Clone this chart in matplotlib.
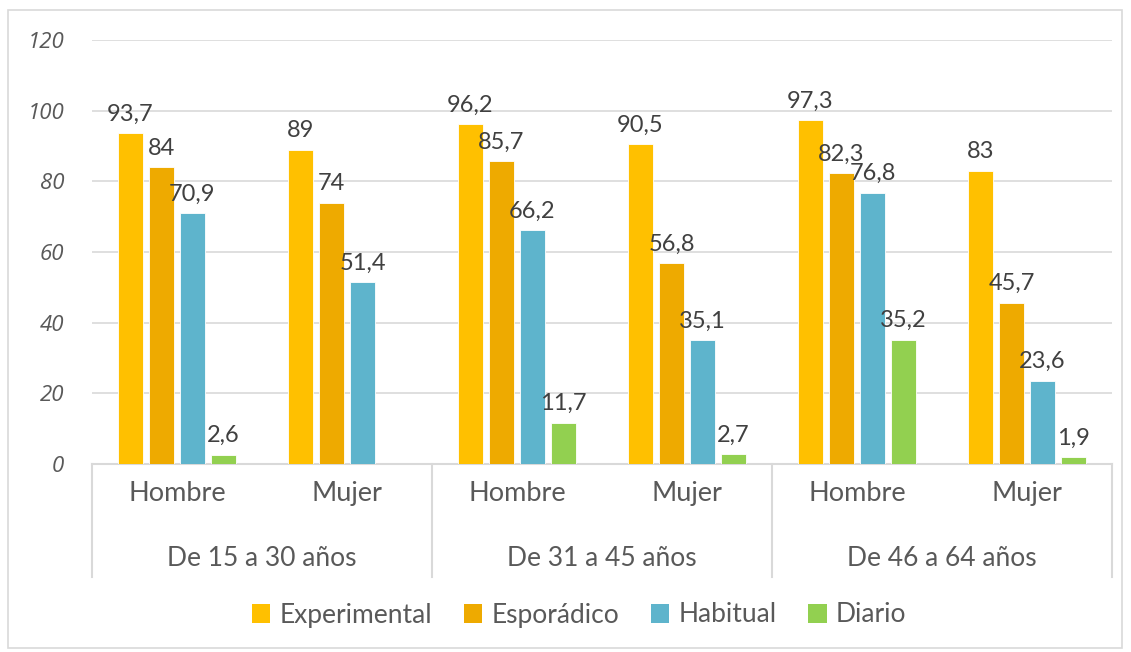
import numpy as np
import matplotlib
matplotlib.use("Agg")
import matplotlib.pyplot as plt
from matplotlib.patches import Rectangle

plt.rcParams['font.family'] = ['Lato', 'DejaVu Sans']

# Datos
grupos = ["De 15 a 30 años", "De 31 a 45 años", "De 46 a 64 años"]
sexos = ["Hombre", "Mujer", "Hombre", "Mujer", "Hombre", "Mujer"]
series = ["Experimental", "Esporádico", "Habitual", "Diario"]
experimental = [93.7, 89, 96.2, 90.5, 97.3, 83]
esporadico = [84, 74, 85.7, 56.8, 82.3, 45.7]
habitual = [70.9, 51.4, 66.2, 35.1, 76.8, 23.6]
diario = [2.6, None, 11.7, 2.7, 35.2, 1.9]
colores = ["#FFC000", "#EEAA00", "#5EB4CC", "#92D050"]
y_ticks = [0, 20, 40, 60, 80, 100, 120]

texto = "#595959"
gris = "#D9D9D9"

fig = plt.figure(figsize=(11.31, 6.52), dpi=100)
ax = fig.add_axes([92 / 1131, (652 - 464) / 652, 1020 / 1131, 424 / 652])

# borde exterior del grafico
fig.patches.append(Rectangle((8 / 1131, 4 / 652), 1114 / 1131, 638 / 652,
                             transform=fig.transFigure, fill=False,
                             edgecolor=gris, linewidth=1.2))

x = np.arange(len(sexos))
paso = 31 / 170
ancho = 25 / 170
valores = [experimental, esporadico, habitual, diario]

for i, (vals, col, nombre) in enumerate(zip(valores, colores, series)):
    xs = x + (i - 1.5) * paso
    for xi, v in zip(xs, vals):
        if v is None:
            continue
        ax.bar(xi, v, width=ancho, color=col, edgecolor="white", linewidth=0.6,
               zorder=3)
        etiqueta = f"{v:g}".replace(".", ",")
        ax.text(xi, v + 2.4, etiqueta, ha="center", va="bottom", fontsize=17,
                color="#404040", zorder=4)
    # solo para la leyenda
    ax.bar(np.nan, np.nan, color=col, label=nombre)

ax.set_xlim(-0.5, len(sexos) - 0.5)
ax.set_ylim(0, 120)
ax.set_yticks(y_ticks)
ax.set_yticklabels([str(t) for t in y_ticks], fontsize=16, style="italic",
                   color=texto, family=["Open Sans", "DejaVu Sans"])
ax.yaxis.grid(True, color=gris, linewidth=1.2, zorder=0)
ax.tick_params(axis="y", length=0, pad=20)

for s in ["top", "right", "left"]:
    ax.spines[s].set_visible(False)
ax.spines["bottom"].set_color(gris)
ax.spines["bottom"].set_linewidth(1.5)

ax.set_xticks(x)
ax.set_xticklabels(sexos, fontsize=19.5, color=texto)
ax.tick_params(axis="x", length=0, pad=12)

# separadores y etiquetas de grupo
trans = ax.get_xaxis_transform()
for b in [-0.5, 1.5, 3.5, 5.5]:
    ax.plot([b, b], [0, -113 / 424], color=gris, linewidth=1.5,
            transform=trans, clip_on=False)
for g, nombre in enumerate(grupos):
    ax.text(2 * g + 0.5, -94 / 424, nombre, ha="center", va="center",
            fontsize=19, color=texto, transform=trans)

leg = fig.legend(loc="center", bbox_to_anchor=(0.512, 1 - 615 / 652), ncol=4,
                 frameon=False, fontsize=19, handlelength=0.7,
                 handleheight=0.7, handletextpad=0.35, columnspacing=1.2)
for t in leg.get_texts():
    t.set_color(texto)

fig.savefig("out.png", dpi=100)
